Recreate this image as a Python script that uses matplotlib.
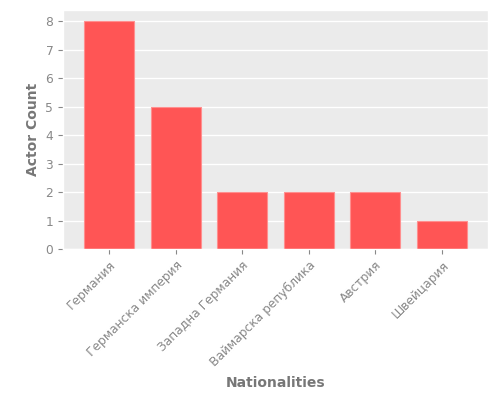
import matplotlib
matplotlib.use('Agg')
import matplotlib.pyplot as plt

nationalities = ['Германия', 'Германска империя', 'Западна Германия',
                 'Ваймарска република', 'Австрия', 'Швейцария']
actor_count = [8, 5, 2, 2, 2, 1]

plt.style.use('ggplot')
plt.rcParams['font.family'] = ['DejaVu Sans']

fig, ax = plt.subplots(figsize=(5, 4), dpi=100)
ax.set_facecolor('#ebebeb')
ax.bar(nationalities, actor_count, width=0.75, color='#ff5555', edgecolor='#ff8f8f', linewidth=0.8)
ax.set_xlim(-0.69, 5.69)

ax.grid(axis='x', visible=False)
ax.grid(axis='y', color='white', linewidth=1)
ax.set_axisbelow(True)

ax.set_xlabel('Nationalities', color='#777777', fontweight='bold', fontsize=10, labelpad=5)
ax.set_ylabel('Actor Count', color='#777777', fontweight='bold', fontsize=10)
ax.tick_params(axis='both', colors='#888888', labelcolor='#888888', labelsize=8.8)
plt.setp(ax.get_xticklabels(), rotation=45, ha='right', rotation_mode='anchor')

fig.subplots_adjust(left=0.126, right=0.976, top=0.975, bottom=0.3775)
fig.savefig('out.png', dpi=100)
